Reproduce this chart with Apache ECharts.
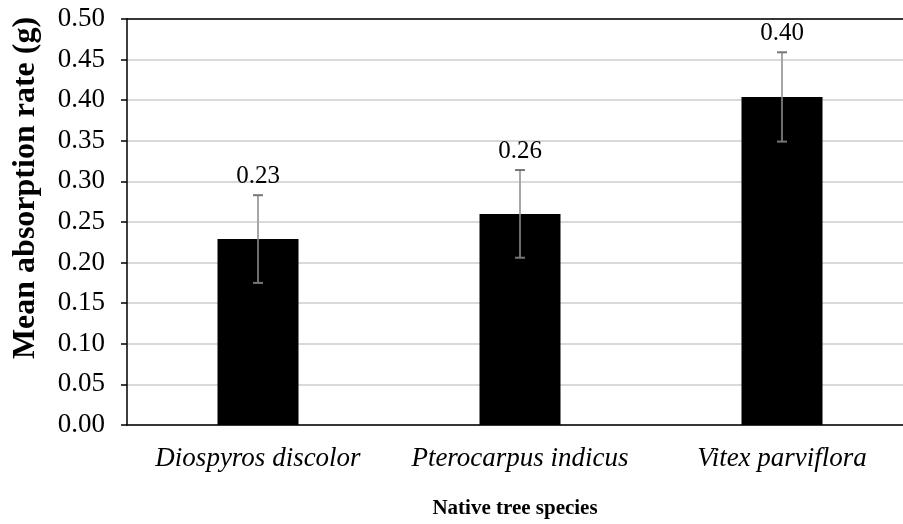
<!DOCTYPE html>
<html>
<head>
<meta charset="utf-8">
<script src="https://cdn.jsdelivr.net/npm/echarts@6/dist/echarts.min.js"></script>
<style>html,body{margin:0;padding:0;background:#fff;overflow:hidden;width:903px;height:524px;}#c{width:913px;height:524px;}</style>
</head>
<body>
<div id="c"></div>
<script>
var categories = ['Diospyros discolor', 'Pterocarpus indicus', 'Vitex parviflora'];
var means = [0.229, 0.260, 0.404];
var errors = [0.054, 0.054, 0.055];
var valueLabels = ['0.23', '0.26', '0.40'];
var yTitle = 'Mean absorption rate (g)';
var xTitle = 'Native tree species';

var errData = means.map(function (m, i) { return [i, m - errors[i], m + errors[i], m]; });
var font = '"Liberation Serif", "Times New Roman", serif';

var chart = echarts.init(document.getElementById('c'), null, {renderer: 'canvas', width: 913, height: 524});
chart.setOption({
  animation: false,
  backgroundColor: '#fff',
  grid: {left: 127, top: 19, width: 786, height: 410, containLabel: false},
  graphic: [{
    type: 'text', x: 26, y: 188, rotation: Math.PI / 2,
    style: {text: yTitle, fontFamily: font, fontSize: 32, fontWeight: 'bold', fill: '#000', align: 'center', verticalAlign: 'middle'}
  }],
  xAxis: [{
    type: 'category',
    data: categories,
    name: xTitle,
    nameLocation: 'middle',
    nameGap: 73,
    nameTextStyle: {fontFamily: font, fontSize: 21, fontWeight: 'bold', color: '#000', padding: [0, 0, 0, -10]},
    axisLine: {lineStyle: {color: '#000', width: 1.5}},
    axisTick: {show: false},
    axisLabel: {interval: 0, fontFamily: font, fontSize: 27, fontStyle: 'italic', color: '#000', margin: 20}
  }, {
    type: 'category',
    data: categories,
    position: 'top',
    axisLine: {show: true, lineStyle: {color: '#000', width: 1.5}},
    axisTick: {show: false},
    axisLabel: {show: false}
  }],
  yAxis: {
    type: 'value',
    min: 0, max: 0.5, interval: 0.05,
    axisLine: {show: true, lineStyle: {color: '#000', width: 1.5}},
    axisTick: {show: true, length: 6, lineStyle: {color: '#000', width: 1.5}},
    axisLabel: {fontFamily: font, fontSize: 27, color: '#000', margin: 22,
      formatter: function (v) { return v.toFixed(2); }},
    splitLine: {show: true, lineStyle: {color: '#d9d9d9', width: 2}}
  },
  series: [{
    type: 'bar',
    data: means,
    barWidth: 81,
    itemStyle: {color: '#000'}
  }, {
    type: 'custom',
    data: errData,
    z: 10,
    renderItem: function (params, api) {
      var x = api.value(0);
      var lo = api.coord([x, api.value(1)]);
      var hi = api.coord([x, api.value(2)]);
      var mid = api.coord([x, api.value(3)]);
      var hw = 5;
      return {
        type: 'group',
        children: [
          {type: 'line', shape: {x1: hi[0], y1: hi[1], x2: mid[0], y2: mid[1]}, style: {stroke: '#a6a6a6', lineWidth: 2}},
          {type: 'line', shape: {x1: mid[0], y1: mid[1], x2: lo[0], y2: lo[1]}, style: {stroke: '#6e6e6e', lineWidth: 2}},
          {type: 'line', shape: {x1: hi[0] - hw, y1: hi[1], x2: hi[0] + hw, y2: hi[1]}, style: {stroke: '#767676', lineWidth: 2}},
          {type: 'line', shape: {x1: lo[0] - hw, y1: lo[1], x2: lo[0] + hw, y2: lo[1]}, style: {stroke: '#767676', lineWidth: 2}},
          {type: 'text', x: hi[0], y: hi[1] - 19, style: {text: valueLabels[params.dataIndex], fontFamily: font, fontSize: 25, fill: '#000', align: 'center', verticalAlign: 'middle'}}
        ]
      };
    }
  }]
});
</script>
</body>
</html>
